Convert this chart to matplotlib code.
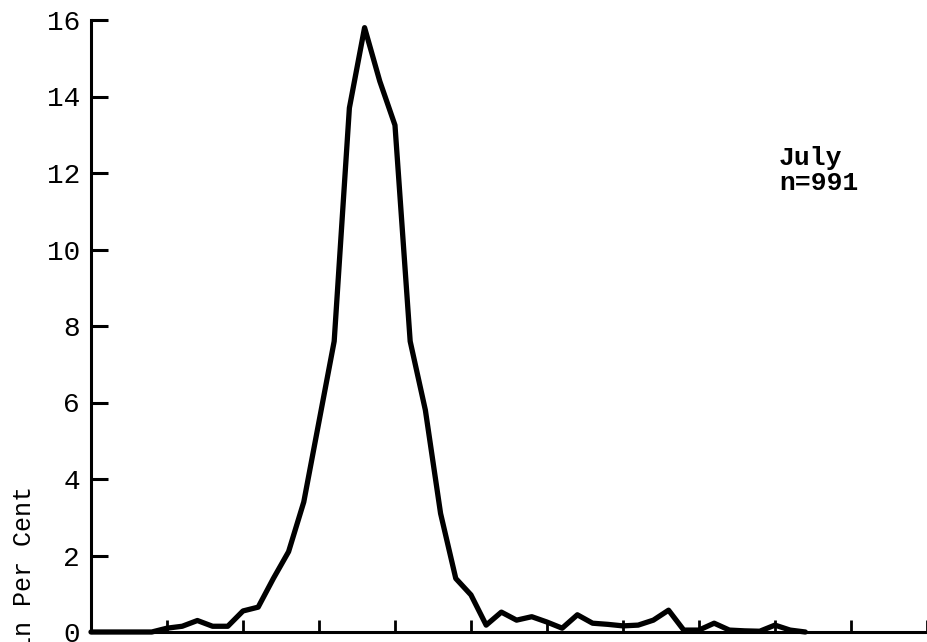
import numpy as np
import matplotlib.pyplot as plt

# frequency (per cent), one value per class interval
freq = [0, 0, 0, 0, 0, 0.1, 0.15, 0.3, 0.15, 0.15,
        0.55, 0.65, 1.4, 2.1, 3.4, 5.5, 7.6, 13.7, 15.8, 14.4,
        13.25, 7.6, 5.8, 3.1, 1.4, 0.97, 0.18, 0.52, 0.31, 0.4,
        0.26, 0.1, 0.45, 0.23, 0.2, 0.16, 0.18, 0.31, 0.57, 0.05,
        0.05, 0.23, 0.05, 0.03, 0.02, 0.18, 0.05, 0]
classes = np.arange(len(freq))
yticks = [0, 2, 4, 6, 8, 10, 12, 14, 16]
xticks = list(range(5, 56, 5))

mono = ['Liberation Mono', 'DejaVu Sans Mono']

fig = plt.figure(figsize=(9.28, 6.42), dpi=100)
ax = fig.add_axes([91/928, 10/642, (928-91)/928, 612/642])

ax.plot(classes, freq, color='black', lw=3.8, solid_joinstyle='round',
        solid_capstyle='round', clip_on=False, zorder=3)

ax.set_xlim(0, 55.07)
ax.set_ylim(0, 16)
ax.set_xticks(xticks)
ax.set_xticklabels([])
ax.set_yticks(yticks)
ax.set_yticklabels([str(v) for v in yticks], family=mono, fontsize=20)

ax.tick_params(axis='x', direction='in', length=9, width=2, color='black')
ax.tick_params(axis='y', direction='in', length=12, width=2.2, color='black', pad=8)

for s in ['top', 'right']:
    ax.spines[s].set_visible(False)
for s in ['left', 'bottom']:
    ax.spines[s].set_linewidth(2.2)
    ax.spines[s].set_color('black')

fig.text(24/928, 1 - 486/642, 'Frequency in Per Cent', rotation=90,
         ha='center', va='top', family=mono, fontsize=18)

fig.text(779/928, 1 - 146/642, 'July\nn=991', ha='left', va='top',
         family=mono, fontsize=19, fontweight='bold', linespacing=1.05)

fig.savefig('out.png', dpi=100)
